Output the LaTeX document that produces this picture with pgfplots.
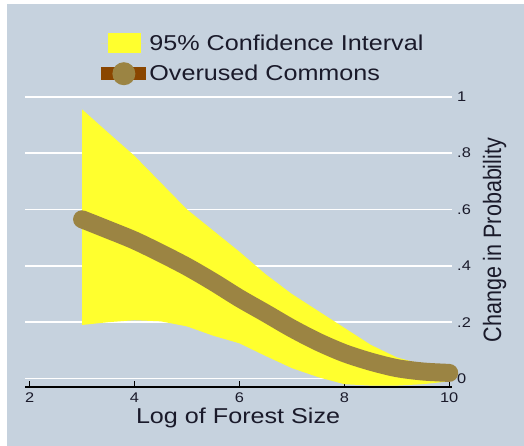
\documentclass[border=0pt]{standalone}
\usepackage{fontspec}
\setmainfont{Liberation Sans}[FakeStretch=1.17]
\newfontfamily\ylabfont{Liberation Sans}
\usepackage{pgfplots}
\pgfplotsset{compat=1.18}
\definecolor{bgcol}{HTML}{C6D2DE}
\definecolor{ciyellow}{HTML}{FFFF2E}
\definecolor{linecol}{HTML}{9B8443}
\definecolor{legbrown}{HTML}{8A4600}
\definecolor{txtcol}{HTML}{1A1A2A}
\begin{document}
\begin{tikzpicture}
\fill[white] (0,0) rectangle (524bp,446bp);
\fill[bgcol] (7bp,0) rectangle (524bp,442bp);
\begin{axis}[
  at={(25bp,59bp)}, anchor=south west,
  scale only axis, width=427bp, height=290.3bp,
  xmin=1.912, xmax=10.053, ymin=-0.03, ymax=1.0,
  clip=false,
  axis x line*=bottom,
  axis y line*=right,
  y axis line style={draw=none},
  x axis line style={black, line width=1.2bp},
  xtick={2,4,6,8,10}, xticklabels={2,4,6,8,10},
  ytick={0,0.2,0.4,0.6,0.8,1}, yticklabels={0,.2,.4,.6,.8,1},
  xtick align=inside,
  major tick length=6bp,
  xtick style={black, line width=1.2bp},
  ytick style={draw=none},
  ymajorgrids, major grid style={white, line width=1.8bp},
  xticklabel style={font=\fontsize{14bp}{16bp}\selectfont, text=txtcol, inner sep=0pt, anchor=north, yshift=-6bp},
  yticklabel style={font=\fontsize{14bp}{16bp}\selectfont, text=txtcol, inner sep=0pt, anchor=west, xshift=5bp},
  yticklabel pos=right,
  xlabel={Log of Forest Size},
  xlabel style={font=\fontsize{21.5bp}{25bp}\selectfont, text=txtcol, at={(axis description cs:0.499,-0.107)}, anchor=center},
  ylabel={\scalebox{1}[1.17]{\ylabfont Change in Probability}},
  ylabel style={font=\fontsize{21.5bp}{25bp}\selectfont, text=txtcol, at={(axis description cs:1.10,0.506)}, anchor=center, rotate=0},
  legend style={at={(axis description cs:0.162,1.2194)}, anchor=north west, draw=none, fill=none, inner sep=0pt,
    font=\fontsize{21.5bp}{25bp}\selectfont, text=txtcol, row sep=9bp, column sep=-4bp,
    nodes={inner xsep=1bp, inner ysep=1bp}},
  legend cell align=left,
]
\addplot[fill=ciyellow, draw=none,
  legend image code/.code={\path[fill=ciyellow, draw=none] (7bp,-10bp) rectangle (40bp,10bp); \path (0bp,0bp) -- (45bp,0bp);}]
  coordinates {
 (3,0.955) (3.5,0.872) (4,0.79) (4.5,0.695) (5,0.60) (5.5,0.525) (6,0.45)
 (6.5,0.37) (7,0.30) (7.5,0.24) (8,0.18) (8.5,0.12) (9,0.075) (9.5,0.05) (10,0.035)
 (10,-0.01) (9.5,-0.02) (9,-0.025) (8.5,-0.025) (8,-0.02) (7.5,0.005) (7,0.037)
 (6.5,0.08) (6,0.125) (5.5,0.152) (5,0.185) (4.5,0.203) (4,0.207) (3.5,0.20) (3,0.19)} -- cycle;
\addlegendentry{95\% Confidence Interval}
\addplot[linecol, line width=18bp, line cap=round, smooth,
  legend image code/.code={\path[draw=legbrown, line width=13bp, line cap=butt] (0bp,0bp) -- (45bp,0bp); \path[fill=linecol, draw=none] (23bp,0bp) circle[radius=11.5bp];}]
  coordinates {
 (3,0.565) (3.5,0.528) (4,0.49) (4.5,0.445) (5,0.397) (5.5,0.343) (6,0.285)
 (6.5,0.232) (7,0.178) (7.5,0.13) (8,0.09) (8.5,0.06) (9,0.037) (9.5,0.025) (10,0.02)};
\addlegendentry{Overused Commons}
\end{axis}
\pgfresetboundingbox
\path[use as bounding box] (0,0) rectangle (524bp,446bp);
\end{tikzpicture}
\end{document}
